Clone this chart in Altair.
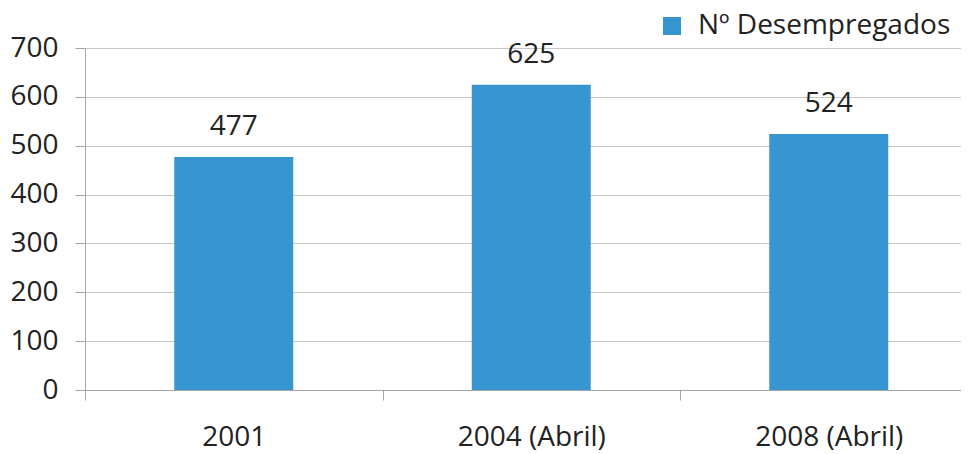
import altair as alt
import pandas as pd

categories = ["2001", "2004 (Abril)", "2008 (Abril)"]
values = [477, 625, 524]
series_name = "Nº Desempregados"
y_ticks = [0, 100, 200, 300, 400, 500, 600, 700]

FONT = "Open Sans"
BAR = "#3795CF"
TXT = "#222222"

df = pd.DataFrame({"cat": categories, "val": values, "series": [series_name] * len(categories)})

base = alt.Chart(df).encode(
    x=alt.X(
        "cat:N",
        sort=categories,
        scale=alt.Scale(range=[0, 892.5], paddingInner=0, paddingOuter=0),
        axis=alt.Axis(
            title=None, labelAngle=0, tickBand="extent", tickSize=10,
            labelPadding=23, labelFontSize=28, domainColor="#A6A6A6", tickColor="#A6A6A6",
        ),
    ),
    y=alt.Y(
        "val:Q",
        scale=alt.Scale(domain=[0, 700]),
        axis=alt.Axis(
            title=None, values=y_ticks, tickSize=10, labelPadding=17, labelFontSize=28,
            grid=True, gridColor="#C8C8C8", domainColor="#A6A6A6", tickColor="#A6A6A6",
        ),
    ),
)

bars = base.mark_bar(size=119).encode(
    color=alt.Color(
        "series:N",
        scale=alt.Scale(range=[BAR]),
        legend=alt.Legend(
            title=None, orient="none", legendX=573, legendY=-36, symbolType="square",
            symbolSize=324, symbolStrokeWidth=0, labelFontSize=28, labelFont=FONT,
            labelColor=TXT, labelOffset=12, padding=0, labelLimit=0,
        ),
    )
)

labels = base.mark_text(dy=-22, baseline="alphabetic", fontSize=28, font=FONT, color=TXT).encode(
    text="val:Q"
)

chart = (
    alt.layer(bars, labels)
    .properties(
        width=876,
        height=342,
        padding={"left": 77, "top": 40, "right": 0, "bottom": 62},
        autosize=alt.AutoSizeParams(type="none"),
    )
    .configure_view(stroke=None)
    .configure_axis(labelFont=FONT, labelColor=TXT)
)

chart.save("out.html", embed_options={"renderer": "svg", "actions": False})
